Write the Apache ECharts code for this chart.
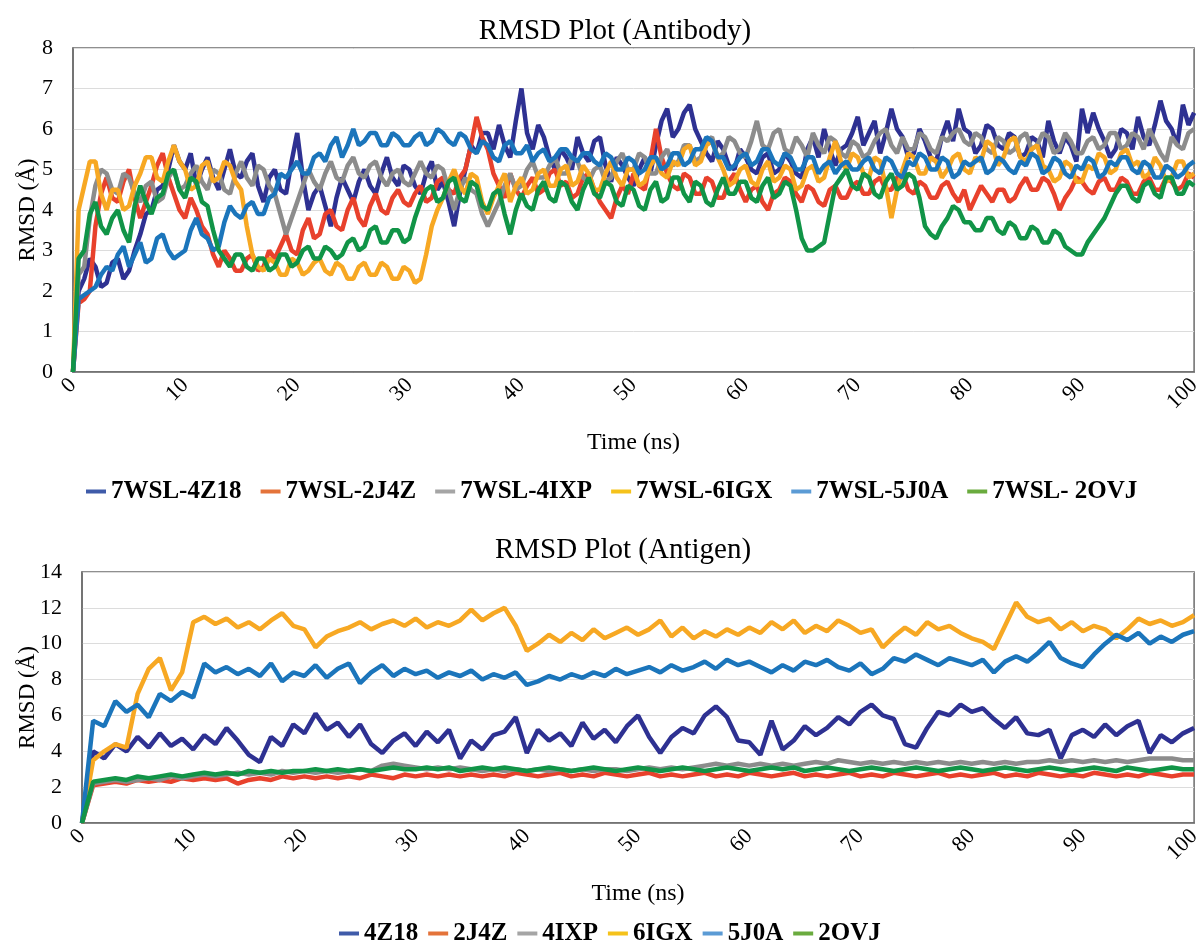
<!DOCTYPE html>
<html>
<head>
<meta charset="utf-8">
<script src="https://cdn.jsdelivr.net/npm/echarts@6/dist/echarts.min.js"></script>
<style>
  html, body { margin: 0; padding: 0; background: #fff; }
  #chart { width: 1204px; height: 941px; }
</style>
</head>
<body>
<div id="chart"></div>
<script>
var titleTop = 'RMSD Plot (Antibody)';
var titleBottom = 'RMSD Plot (Antigen)';
var namesTop = ['7WSL-4Z18', '7WSL-2J4Z', '7WSL-4IXP', '7WSL-6IGX', '7WSL-5J0A', '7WSL- 2OVJ'];
var namesBottom = ['4Z18', '2J4Z', '4IXP', '6IGX', '5J0A', '2OVJ'];
var stepTop = 0.5;    // ns between antibody samples
var stepBottom = 1;   // ns between antigen samples

// ---- Antibody RMSD (Å), one value every 0.5 ns from 0 to 100 ----
var ab_4Z18 = [0,2.0,2.3,2.8,2.6,2.1,2.2,2.7,2.8,2.3,
 2.5,3.0,3.4,3.9,4.0,4.5,4.6,5.0,5.6,5.2,
 5.0,5.4,4.6,5.0,5.3,4.8,4.5,5.0,5.5,4.9,
 4.8,5.2,5.4,4.6,4.2,4.8,5.0,4.5,4.4,5.2,
 5.9,4.8,4.0,4.4,4.6,4.1,3.6,4.3,4.8,4.5,
 4.2,4.7,5.0,4.6,4.4,4.9,5.3,4.8,4.6,5.1,
 5.0,4.6,4.4,4.9,5.2,4.5,4.7,4.2,3.6,4.4,
 5.0,5.6,5.4,5.9,5.9,5.5,6.1,5.6,5.3,6.2,
 7.0,5.9,5.5,6.1,5.8,5.3,5.0,5.5,5.3,5.0,
 5.8,5.4,5.2,5.7,5.8,5.1,4.7,5.3,5.1,4.8,
 4.6,5.0,5.3,4.9,5.6,6.2,6.5,5.8,6.0,6.4,
 6.6,6.0,5.7,5.4,5.2,5.7,5.5,5.1,5.0,5.5,
 5.3,5.0,4.9,5.3,5.4,4.9,5.0,5.4,5.2,4.9,
 4.8,5.5,5.8,5.3,6.0,5.5,5.1,5.5,5.6,5.9,
 6.3,5.6,5.9,6.2,5.4,5.9,6.5,6.0,5.8,5.3,
 5.4,6.0,5.7,5.3,5.2,5.8,6.2,5.7,6.5,6.0,
 5.9,5.4,5.6,6.1,6.0,5.6,5.5,5.9,5.8,5.3,
 5.4,5.8,5.7,5.3,6.2,5.7,5.4,5.8,5.6,5.2,
 6.5,5.9,6.4,6.0,5.7,5.3,5.5,6.0,5.9,5.5,
 6.3,5.8,5.6,6.1,6.7,6.2,6.0,5.6,6.6,6.1,
 6.4];
var ab_2J4Z = [0,1.7,1.8,2.0,3.6,4.4,4.8,4.3,4.2,4.7,
 5.0,4.3,3.8,4.2,4.6,5.1,5.4,4.8,4.4,4.0,
 3.8,4.3,4.0,3.6,3.4,2.9,2.6,3.0,2.8,2.5,
 2.5,2.8,2.9,2.5,2.6,3.0,2.8,3.1,3.4,3.0,
 2.9,3.5,3.8,3.3,3.4,3.9,4.0,3.6,3.5,4.0,
 4.3,3.8,3.6,4.1,4.4,4.0,3.9,4.3,4.5,4.2,
 4.1,4.4,4.6,4.2,4.3,4.7,4.8,4.5,4.4,4.8,
 5.0,5.6,6.3,5.8,5.5,4.9,4.6,4.3,4.9,4.5,
 4.3,4.6,4.8,4.4,4.5,4.9,5.0,4.6,4.7,4.3,
 4.4,4.8,4.9,4.5,4.2,4.0,3.8,4.3,4.6,4.4,
 4.9,4.6,4.5,5.2,6.0,5.3,4.9,4.6,4.5,4.9,
 4.8,4.4,4.4,4.8,4.7,4.3,4.3,4.7,4.9,4.5,
 4.2,4.5,4.6,4.2,4.0,4.4,4.5,4.8,4.7,4.4,
 4.2,4.6,4.5,4.2,4.1,4.5,4.6,4.3,4.3,4.6,
 4.7,4.4,4.4,4.7,4.8,4.5,4.5,4.8,4.9,4.5,
 4.4,4.7,4.6,4.3,4.3,4.6,4.7,4.4,4.2,4.5,
 4.0,4.3,4.6,4.4,4.2,4.5,4.5,4.2,4.3,4.6,
 4.8,4.5,4.5,4.8,4.7,4.4,4.0,4.3,4.5,4.8,
 4.7,4.5,4.4,4.7,4.8,4.5,4.5,4.8,4.7,4.4,
 4.4,4.7,4.8,4.5,4.5,4.8,4.7,4.5,4.6,4.9,
 4.8];
var ab_4IXP = [0,2.4,2.6,3.8,4.6,5.0,4.9,4.5,4.4,4.9,
 4.8,4.4,4.2,4.6,4.7,4.2,4.3,4.8,5.0,4.5,
 4.6,4.9,5.1,4.7,4.5,5.0,4.9,4.5,4.4,4.9,
 5.2,4.8,4.6,5.1,5.0,4.6,4.4,3.9,3.4,3.8,
 4.2,4.6,5.0,4.7,4.5,4.9,5.2,4.8,4.7,5.1,
 5.3,4.9,4.8,5.1,5.2,4.8,4.6,4.9,5.0,4.7,
 4.6,4.9,5.2,4.9,4.8,5.1,5.0,4.5,4.0,4.5,
 4.8,4.5,4.4,3.9,3.6,3.9,4.2,4.6,4.9,4.5,
 4.6,5.0,5.2,4.8,4.8,5.1,5.3,4.9,4.9,5.3,
 5.2,4.8,4.7,5.0,5.1,4.7,4.8,5.2,5.4,5.0,
 5.0,5.4,5.3,4.9,4.9,5.3,5.5,5.1,5.2,5.6,
 5.6,5.2,5.3,5.7,5.8,5.3,5.4,5.8,5.7,5.4,
 5.3,5.7,6.2,5.6,5.5,5.9,6.0,5.5,5.4,5.8,
 5.6,5.3,5.9,5.6,5.4,5.8,5.7,5.4,5.3,5.7,
 5.6,5.3,5.4,5.7,5.9,6.0,5.6,5.4,5.8,5.5,
 5.5,5.9,5.8,5.5,5.4,5.8,5.7,5.9,6.0,5.7,
 5.6,5.9,5.8,5.5,5.4,5.8,5.7,5.4,5.5,5.8,
 5.9,5.5,5.6,5.9,5.8,5.4,5.5,5.9,5.7,5.4,
 5.4,5.7,5.8,5.5,5.6,5.9,5.9,5.5,5.6,5.9,
 5.8,5.5,6.0,5.7,5.4,5.2,5.8,5.6,5.5,5.9,
 6.0];
var ab_6IGX = [0,4.0,4.6,5.2,5.2,4.4,4.0,4.5,4.5,4.0,
 4.1,4.6,4.9,5.3,5.3,4.8,4.7,5.2,5.6,5.2,
 5.0,4.5,4.6,5.1,5.2,4.7,4.8,5.2,5.1,4.7,
 4.5,3.6,2.9,2.6,2.5,2.8,2.7,2.4,2.4,2.8,
 2.7,2.4,2.5,2.7,2.8,2.5,2.4,2.7,2.6,2.3,
 2.3,2.6,2.7,2.4,2.4,2.7,2.6,2.3,2.3,2.6,
 2.5,2.2,2.3,2.9,3.6,4.0,4.3,4.7,5.0,4.6,
 4.4,4.9,4.8,4.2,3.9,4.3,4.6,4.9,4.2,4.6,
 4.8,4.4,4.5,4.9,5.0,4.6,4.6,5.0,5.1,4.6,
 4.7,5.1,4.9,4.5,4.5,4.9,5.2,4.8,4.6,5.0,
 5.0,4.6,4.7,5.1,5.3,4.9,4.8,5.2,5.1,5.5,
 5.6,5.1,5.2,5.6,5.7,5.3,5.0,4.6,4.7,5.0,
 5.1,4.7,4.6,5.0,5.2,4.7,4.8,5.1,5.0,4.5,
 4.6,5.0,5.1,4.7,4.8,5.3,5.7,5.2,5.0,5.4,
 5.3,4.9,4.8,5.3,5.2,4.6,3.8,4.5,5.0,5.4,
 5.3,4.9,4.9,5.3,5.2,4.8,5.0,5.3,5.4,5.0,
 4.9,5.3,5.2,5.7,5.6,5.1,5.3,5.7,5.8,5.3,
 5.2,5.5,5.6,5.1,5.0,4.7,4.8,5.2,5.1,4.7,
 4.7,5.1,5.0,5.4,5.3,4.9,5.0,5.4,5.5,5.1,
 5.2,4.8,4.9,5.3,5.1,4.7,4.8,5.2,5.2,4.8,
 4.9];
var ab_5J0A = [0,1.8,1.9,2.0,2.1,2.4,2.6,2.5,2.9,3.1,
 2.6,2.9,3.2,2.7,2.8,3.3,3.4,3.0,2.8,2.9,
 3.0,3.5,3.8,3.4,3.3,3.0,3.1,3.7,4.1,3.9,
 3.8,4.1,4.2,3.9,3.9,4.3,4.4,4.9,4.8,5.0,
 5.2,4.9,4.9,5.3,5.4,5.2,5.6,5.8,5.3,5.6,
 6.0,5.6,5.7,5.9,5.9,5.6,5.6,5.9,5.8,5.6,
 5.6,5.8,5.9,5.6,5.7,6.0,5.9,5.7,5.6,5.9,
 5.8,5.5,5.4,5.7,5.6,5.3,5.2,5.6,5.7,5.4,
 5.4,5.6,5.2,5.4,5.5,5.2,5.3,5.5,5.5,5.3,
 5.2,5.4,5.4,5.2,5.1,5.4,5.3,5.0,5.0,5.3,
 5.2,4.9,5.0,5.3,5.3,5.0,5.1,5.4,5.4,5.1,
 5.2,5.5,5.5,5.8,5.7,5.3,5.3,5.0,5.1,5.3,
 5.4,5.1,5.2,5.5,5.5,5.2,5.1,5.4,5.3,5.0,
 5.0,5.3,5.3,4.9,5.1,5.2,4.9,5.1,5.2,5.0,
 5.0,5.2,5.3,5.0,4.9,5.3,5.2,4.9,4.8,5.2,
 5.1,5.4,5.3,5.0,5.0,5.3,5.2,4.8,4.9,5.2,
 5.1,5.2,5.3,4.9,5.0,5.3,5.2,5.0,4.9,5.2,
 5.1,5.4,5.3,4.9,5.0,5.3,5.2,4.9,4.8,5.1,
 5.0,5.3,5.2,4.8,4.9,5.2,5.1,5.3,5.3,5.0,
 4.9,5.2,5.1,4.8,4.8,5.1,5.0,4.8,4.9,5.1,
 5.2];
var ab_2OVJ = [0,2.8,3.0,3.9,4.2,3.6,3.4,3.8,4.0,3.5,
 3.2,4.1,4.6,4.2,3.9,4.3,4.4,4.9,5.0,4.5,
 4.3,4.8,4.7,4.2,4.1,3.5,3.0,2.8,2.6,2.9,
 2.9,2.6,2.5,2.8,2.8,2.5,2.6,2.9,2.9,2.6,
 2.7,3.0,3.1,2.8,2.8,3.1,3.0,2.8,2.9,3.2,
 3.3,3.0,3.1,3.5,3.6,3.2,3.2,3.5,3.5,3.2,
 3.3,3.8,4.2,4.5,4.6,4.2,4.3,4.7,4.8,4.3,
 4.2,4.7,4.6,4.1,4.0,4.4,4.5,3.9,3.4,4.0,
 4.4,4.1,4.0,4.5,4.7,4.3,4.2,4.7,4.6,4.2,
 4.0,4.5,4.8,4.4,4.3,4.7,4.6,4.2,4.1,4.6,
 4.5,4.1,4.0,4.5,4.7,4.2,4.3,4.8,4.8,4.4,
 4.2,4.7,4.6,4.2,4.1,4.5,4.8,4.4,4.4,4.7,
 4.7,4.3,4.2,4.6,4.8,4.3,4.4,4.7,4.6,4.0,
 3.3,3.0,3.0,3.1,3.2,3.9,4.6,4.8,5.0,4.6,
 4.5,4.9,4.8,4.4,4.3,4.7,4.9,4.5,4.6,4.9,
 4.8,4.3,3.6,3.4,3.3,3.6,3.8,4.1,4.0,3.7,
 3.7,3.5,3.5,3.8,3.8,3.5,3.4,3.7,3.6,3.3,
 3.3,3.6,3.5,3.2,3.2,3.5,3.4,3.1,3.0,2.9,
 2.9,3.2,3.4,3.6,3.8,4.1,4.4,4.6,4.6,4.3,
 4.2,4.6,4.7,4.4,4.3,4.8,4.8,4.4,4.4,4.7,
 4.6];

// ---- Antigen RMSD (Å), one value every 1 ns from 0 to 100 ----
var ag_4Z18 = [0,4.0,3.6,4.4,4.0,4.8,4.2,5.0,4.3,4.7, 4.1,4.9,4.4,5.3,4.6,3.8,3.4,4.8,4.3,5.5,
  5.0,6.1,5.2,5.6,4.8,5.5,4.4,3.9,4.6,5.0, 4.3,5.1,4.5,5.2,3.6,4.6,4.1,4.9,5.1,5.9,
  3.9,5.2,4.6,5.0,4.3,5.6,4.7,5.2,4.5,5.4, 6.0,4.8,3.9,4.8,5.3,5.0,6.0,6.5,5.9,4.6,
  4.5,3.8,5.7,4.1,4.6,5.4,4.9,5.3,5.9,5.5, 6.2,6.6,6.0,5.8,4.4,4.2,5.3,6.2,6.0,6.6,
  6.2,6.4,5.8,5.3,5.9,5.0,4.9,5.2,3.6,4.9, 5.2,4.8,5.5,4.9,5.4,5.7,3.9,4.9,4.5,5.0, 5.3];
var ag_2J4Z = [0,2.1,2.2,2.3,2.2,2.4,2.3,2.4,2.3,2.5, 2.4,2.5,2.4,2.5,2.2,2.4,2.5,2.4,2.6,2.5,
  2.6,2.5,2.6,2.5,2.6,2.5,2.7,2.6,2.5,2.7, 2.6,2.7,2.6,2.7,2.6,2.7,2.6,2.7,2.6,2.8,
  2.7,2.6,2.7,2.8,2.6,2.7,2.6,2.8,2.7,2.6, 2.7,2.8,2.6,2.7,2.6,2.7,2.8,2.6,2.7,2.6,
  2.8,2.7,2.6,2.7,2.8,2.6,2.7,2.6,2.7,2.8, 2.6,2.7,2.6,2.8,2.7,2.6,2.7,2.8,2.6,2.7,
  2.6,2.7,2.8,2.6,2.7,2.6,2.8,2.7,2.6,2.7, 2.6,2.8,2.7,2.6,2.7,2.6,2.8,2.7,2.6,2.7, 2.7];
var ag_4IXP = [0,2.2,2.3,2.4,2.3,2.4,2.5,2.4,2.6,2.5, 2.6,2.7,2.6,2.7,2.8,2.7,2.8,2.7,2.9,2.8,
  2.9,2.8,2.9,2.8,2.9,3.0,2.9,3.2,3.3,3.2, 3.1,3.0,3.1,3.0,3.1,3.0,2.9,3.0,2.9,3.0,
  2.9,3.0,2.9,3.0,2.9,3.0,2.9,3.0,3.0,2.9, 3.0,3.1,3.0,3.1,3.0,3.1,3.2,3.3,3.2,3.3,
  3.2,3.3,3.2,3.3,3.2,3.3,3.4,3.3,3.5,3.4, 3.3,3.4,3.3,3.4,3.3,3.4,3.3,3.4,3.3,3.4,
  3.3,3.4,3.3,3.4,3.3,3.4,3.4,3.5,3.4,3.5, 3.4,3.5,3.4,3.5,3.4,3.5,3.6,3.6,3.6,3.5, 3.5];
var ag_6IGX = [0,3.5,4.0,4.4,4.2,7.2,8.6,9.2,7.4,8.4, 11.2,11.5,11.1,11.4,10.9,11.2,10.8,11.3,11.7,11.0,
  10.8,9.8,10.4,10.7,10.9,11.2,10.8,11.1,11.3,11.0, 11.4,10.9,11.2,11.0,11.3,11.9,11.3,11.7,12.0,11.0,
  9.6,10.0,10.5,10.1,10.6,10.2,10.8,10.3,10.6,10.9, 10.5,10.8,11.3,10.4,10.9,10.3,10.7,10.4,10.8,10.5,
  10.9,10.6,11.2,10.8,11.3,10.6,11.0,10.7,11.3,11.0, 10.6,10.8,9.8,10.4,10.9,10.5,11.2,10.8,11.0,10.6,
  10.3,10.1,9.7,11.0,12.3,11.5,11.2,11.4,10.8,11.2, 10.7,11.0,10.8,10.3,10.8,11.4,11.1,11.3,11.0,11.2, 11.6];
var ag_5J0A = [0,5.7,5.4,6.8,6.2,6.6,5.9,7.2,6.8,7.3, 7.0,8.9,8.4,8.7,8.3,8.6,8.2,8.9,7.9,8.4,
  8.2,8.8,8.1,8.6,8.9,7.8,8.4,8.8,8.2,8.6, 8.3,8.5,8.1,8.4,8.2,8.5,8.0,8.3,8.1,8.4,
  7.7,7.9,8.2,8.0,8.3,8.1,8.4,8.2,8.6,8.3, 8.5,8.7,8.4,8.8,8.5,8.7,9.0,8.6,9.1,8.8,
  9.0,8.7,8.4,8.8,8.5,9.0,8.8,9.1,8.7,8.5, 8.9,8.3,8.6,9.2,9.0,9.4,9.1,8.8,9.2,9.0,
  8.8,9.1,8.4,9.0,9.3,9.0,9.5,10.1,9.2,8.9, 8.7,9.4,10.0,10.5,10.2,10.6,10.0,10.4,10.1,10.5, 10.7];
var ag_2OVJ = [0,2.3,2.4,2.5,2.4,2.6,2.5,2.6,2.7,2.6, 2.7,2.8,2.7,2.8,2.7,2.9,2.8,2.9,2.8,2.9,
  2.9,3.0,2.9,3.0,2.9,3.0,2.9,3.0,3.1,3.0, 3.0,3.1,3.0,3.1,2.9,3.0,3.1,3.0,3.1,3.0,
  2.9,3.0,3.1,3.0,2.9,3.0,3.1,3.0,2.9,3.0, 3.1,3.0,2.9,3.0,3.1,3.0,2.9,3.0,3.1,3.0,
  2.9,3.0,3.1,3.0,3.1,2.9,3.0,3.1,3.0,2.9, 3.0,3.1,3.0,2.9,3.0,3.1,3.0,2.9,3.0,3.1,
  3.0,2.9,3.0,3.1,3.0,2.9,3.0,3.1,3.0,2.9, 3.0,3.1,3.0,2.9,3.1,3.0,2.9,3.0,3.1,3.0, 3.0];

var lineColors = ['#2E3192', '#E8412C', '#8C8C8C', '#F7A823', '#1B75BB', '#119447'];
var legendColors = ['#3F5BA9', '#E4733A', '#A5A5A5', '#F5C21B', '#5B9BD5', '#6AAB3E'];

var topData = [ab_4Z18, ab_2J4Z, ab_4IXP, ab_6IGX, ab_5J0A, ab_2OVJ];
var bottomData = [ag_4Z18, ag_2J4Z, ag_4IXP, ag_6IGX, ag_5J0A, ag_2OVJ];

function pairs(arr, step) { return arr.map(function (v, i) { return [i * step, v]; }); }

var FONT = 'Liberation Serif';
var series = [];
topData.forEach(function (arr, k) {
  series.push({ name: namesTop[k], type: 'line', xAxisIndex: 0, yAxisIndex: 0,
    data: pairs(arr, stepTop), symbol: 'none', lineStyle: { width: 4.5, color: lineColors[k] },
    itemStyle: { color: lineColors[k] } });
});
bottomData.forEach(function (arr, k) {
  series.push({ name: namesBottom[k], type: 'line', xAxisIndex: 1, yAxisIndex: 1,
    data: pairs(arr, stepBottom), symbol: 'none', lineStyle: { width: 4.5, color: lineColors[k] },
    itemStyle: { color: lineColors[k] } });
});

function xAxisCfg(gi) {
  return { type: 'value', gridIndex: gi, min: 0, max: 100, interval: 10,
    name: 'Time (ns)', nameLocation: 'middle', nameGap: 59,
    nameTextStyle: { fontFamily: FONT, fontSize: 24, color: '#000' },
    axisLine: { show: true, lineStyle: { color: '#6b6b6b', width: 1.5 } },
    axisTick: { show: false }, splitLine: { show: false },
    axisLabel: { rotate: 45, fontFamily: FONT, fontSize: 22, color: '#000', margin: 10 } };
}
function yAxisCfg(gi, max, interval, gap) {
  return { type: 'value', gridIndex: gi, min: 0, max: max, interval: interval,
    name: 'RMSD (Å)', nameLocation: 'middle', nameGap: gap, nameMoveOverlap: false,
    nameTextStyle: { fontFamily: FONT, fontSize: 23, color: '#000' },
    axisLine: { show: true, lineStyle: { color: '#6b6b6b', width: 1.5 } },
    axisTick: { show: false },
    splitLine: { show: true, lineStyle: { color: '#dcdcdc', width: 1 } },
    axisLabel: { fontFamily: FONT, fontSize: 22, color: '#000', margin: 20 } };
}

var option = {
  animation: false,
  backgroundColor: '#fff',
  title: [
    { text: titleTop, left: 610, top: 12, textAlign: 'center',
      textStyle: { fontFamily: FONT, fontSize: 29, fontWeight: 'normal', color: '#000' } },
    { text: titleBottom, left: 618, top: 531, textAlign: 'center',
      textStyle: { fontFamily: FONT, fontSize: 29, fontWeight: 'normal', color: '#000' } }
  ],
  legend: [
    { left: 81, top: 474, itemGap: 19, itemWidth: 20, itemHeight: 4, icon: 'rect',
      data: namesTop.map(function (n, k) { return { name: n, itemStyle: { color: legendColors[k] } }; }),
      textStyle: { fontFamily: FONT, fontSize: 25, fontWeight: 'bold', color: '#000' } },
    { left: 334, top: 916, itemGap: 10, itemWidth: 20, itemHeight: 4, icon: 'rect',
      data: namesBottom.map(function (n, k) { return { name: n, itemStyle: { color: legendColors[k] } }; }),
      textStyle: { fontFamily: FONT, fontSize: 25, fontWeight: 'bold', color: '#000' } }
  ],
  grid: [
    { left: 73, top: 48, width: 1124, height: 324, show: true, borderColor: '#6b6b6b', borderWidth: 1.5, containLabel: false },
    { left: 82, top: 572, width: 1113, height: 251, show: true, borderColor: '#6b6b6b', borderWidth: 1.5, containLabel: false }
  ],
  xAxis: [xAxisCfg(0), xAxisCfg(1)],
  yAxis: [yAxisCfg(0, 8, 1, 34), yAxisCfg(1, 14, 2, 43)],
  series: series
};

var chart = echarts.init(document.getElementById('chart'), null, { renderer: 'canvas' });
chart.setOption(option);
</script>
</body>
</html>
